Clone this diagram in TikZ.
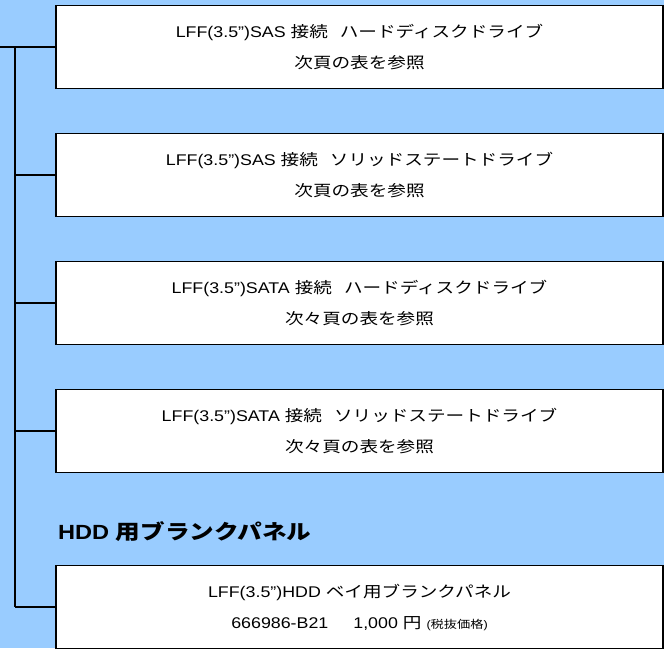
\documentclass[tikz,border=0pt]{standalone}
\usepackage{fontspec}
\setmainfont{Liberation Sans}[FakeStretch=1.15]
\newfontfamily\jpfont{Noto Sans CJK JP}[FakeStretch=1.2]
\newcommand{\jp}[1]{{\jpfont #1}}
\usetikzlibrary{positioning}
\definecolor{panelblue}{RGB}{153,204,255}

\begin{document}
\begin{tikzpicture}[x=1pt,y=-1pt,node distance=128pt,on grid,
  item/.style={draw,fill=white,line width=1.4pt,minimum width=607pt,minimum height=83pt,
    align=center,inner sep=0pt,font=\fontsize{15.5pt}{31pt}\selectfont,
    execute at begin node=\rule{0pt}{22pt}},
  heading/.style={inner sep=0pt,font=\fontsize{20.5pt}{24pt}\selectfont\bfseries}]
  \fill[panelblue] (0,0) rectangle (664,648);
  \useasboundingbox (0,0) rectangle (664,648);

  \node[item] (sashdd) at (359.5,47) {LFF(3.5”)SAS \jp{接続}\hspace{12pt}\jp{ハードディスクドライブ}\\\jp{次頁の表を参照}};
  \node[item] (sasssd) [below = of sashdd] {LFF(3.5”)SAS \jp{接続}\hspace{12pt}\jp{ソリッドステートドライブ}\\\jp{次頁の表を参照}};
  \node[item] (satahdd) [below = of sasssd] {LFF(3.5”)SATA \jp{接続}\hspace{12pt}\jp{ハードディスクドライブ}\\\jp{次々頁の表を参照}};
  \node[item] (satassd) [below = of satahdd] {LFF(3.5”)SATA \jp{接続}\hspace{12pt}\jp{ソリッドステートドライブ}\\\jp{次々頁の表を参照}};
  \node[item] (blank) [below = 176pt of satassd] {LFF(3.5{\char"0022})HDD \jp{ベイ用ブランクパネル}\\666986-B21\hspace{25pt}1,000 \jp{円} {\fontsize{11pt}{11pt}\selectfont(\jp{税抜価格})}};

  \node[heading,anchor=west] (blanktitle) at (58,532) {HDD \jp{用ブランクパネル}};

  \coordinate (start) at (0,47);
  \coordinate (trunk) at (15,47);

  \path[draw,line width=1.4pt]
  (start) edge (sashdd)
  (trunk) edge (trunk |- blank)
  (trunk |- sasssd) edge (sasssd)
  (trunk |- satahdd) edge (satahdd)
  (trunk |- satassd) edge (satassd)
  (trunk |- blank) edge (blank)
  ;
\end{tikzpicture}
\end{document}
